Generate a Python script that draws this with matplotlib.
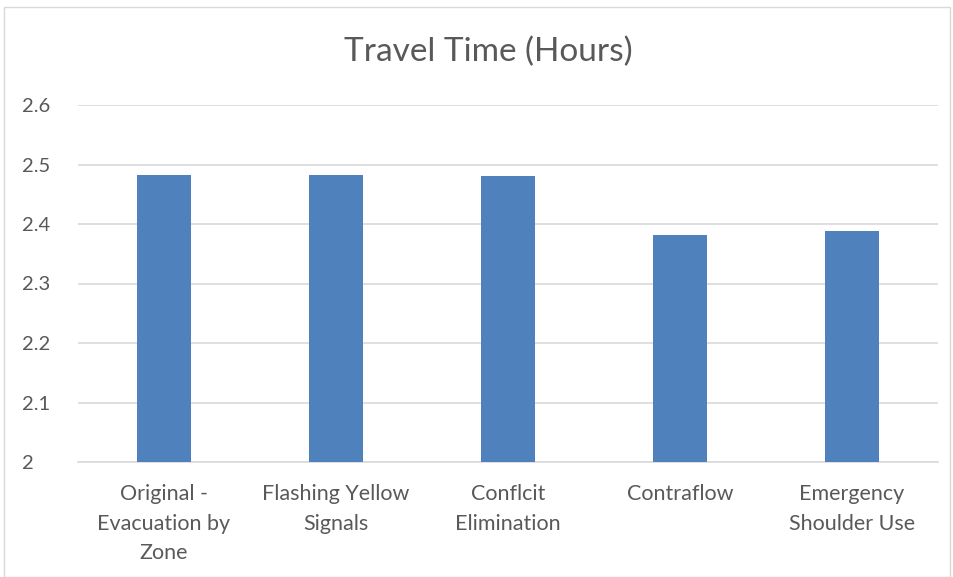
import matplotlib.pyplot as plt
import numpy as np

categories = ["Original -\nEvacuation by\nZone", "Flashing Yellow\nSignals",
              "Conflcit\nElimination", "Contraflow", "Emergency\nShoulder Use"]
travel_time = [2.482, 2.482, 2.480, 2.381, 2.388]
y_ticks = [2, 2.1, 2.2, 2.3, 2.4, 2.5, 2.6]
y_labels = ["2", "2.1", "2.2", "2.3", "2.4", "2.5", "2.6"]

plt.rcParams['font.family'] = ['Lato', 'DejaVu Sans']
text_color = '#595959'

fig = plt.figure(figsize=(9.54, 5.77), dpi=100)
ax = fig.add_axes([78 / 954, 1 - 462 / 577, 860 / 954, 357 / 577])

x = np.arange(len(categories))
ax.bar(x, travel_time, width=0.315, color='#4f81bd', zorder=3)

ax.set_ylim(2, 2.6)
ax.set_xlim(-0.5, len(categories) - 0.5)
ax.set_yticks(y_ticks)
ax.set_yticklabels(y_labels, fontsize=14.5, color=text_color)
ax.set_xticks(x)
ax.set_xticklabels(categories, fontsize=15.5, color=text_color, linespacing=1.6)
ax.tick_params(axis='both', length=0)
ax.tick_params(axis='x', pad=16)
ax.tick_params(axis='y', pad=40)
for lbl in ax.get_yticklabels():
    lbl.set_horizontalalignment('left')

ax.grid(axis='y', color='#d9d9d9', linewidth=1.2, zorder=0)
for side in ['top', 'right', 'left']:
    ax.spines[side].set_visible(False)
ax.spines['bottom'].set_color('#d9d9d9')
ax.spines['bottom'].set_linewidth(1.2)

fig.text(488 / 954, 1 - 52 / 577, "Travel Time (Hours)", fontsize=24,
         color=text_color, ha='center', va='center')

# chart border
border = plt.Rectangle((4 / 954, 0), 1 - 8 / 954, 1 - 7 / 577, transform=fig.transFigure,
                       fill=False, edgecolor='#d9d9d9', linewidth=1)
fig.patches.append(border)

fig.savefig("out.png", dpi=100)
